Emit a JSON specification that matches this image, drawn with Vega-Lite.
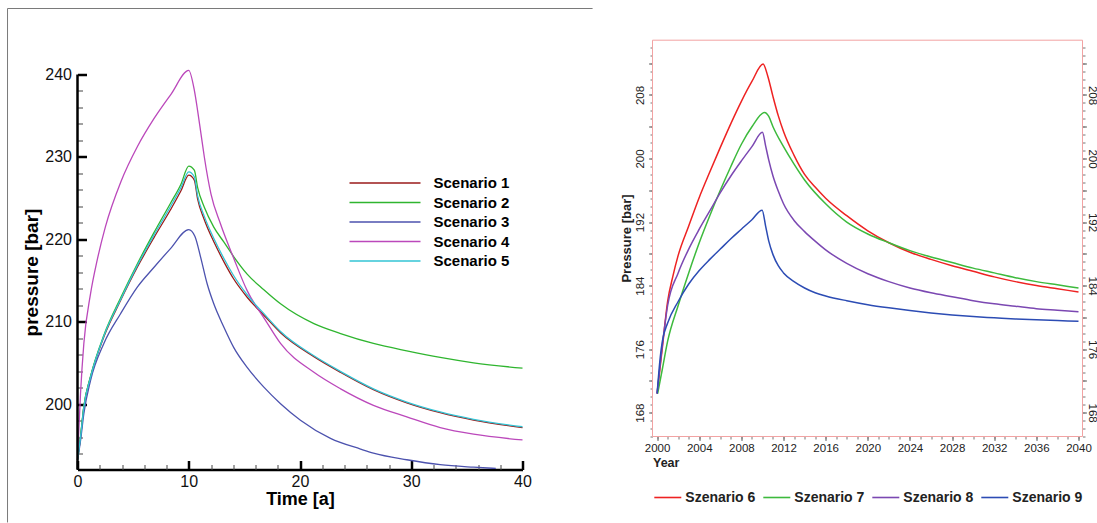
{
  "$schema": "https://vega.github.io/schema/vega-lite/v6.json",
  "padding": {"left": 6.5, "top": 7.5, "right": 0, "bottom": 0},
  "bounds": "flush",
  "spacing": 130,
  "config": {
    "font": "Liberation Sans",
    "view": {"stroke": null},
    "axis": {"grid": false, "labelOverlap": false, "labelFlush": false}
  },
  "resolve": {"scale": {"color": "independent"}},
  "datasets": {
    "left": [
      {"s": "Scenario 1", "t": 0, "p": 193.3}, {"s": "Scenario 1", "t": 0.27, "p": 196.0}, {"s": "Scenario 1", "t": 0.57, "p": 199.7}, {"s": "Scenario 1", "t": 1.17, "p": 203.3}, {"s": "Scenario 1", "t": 2.37, "p": 208.2}, {"s": "Scenario 1", "t": 3.87, "p": 212.6}, {"s": "Scenario 1", "t": 5.36, "p": 216.6}, {"s": "Scenario 1", "t": 6.86, "p": 220.2}, {"s": "Scenario 1", "t": 8.36, "p": 223.6}, {"s": "Scenario 1", "t": 9.3, "p": 225.9}, {"s": "Scenario 1", "t": 10, "p": 227.8}, {"s": "Scenario 1", "t": 10.5, "p": 227.2}, {"s": "Scenario 1", "t": 10.8, "p": 224.9}, {"s": "Scenario 1", "t": 11.4, "p": 222.4}, {"s": "Scenario 1", "t": 12.3, "p": 219.6}, {"s": "Scenario 1", "t": 13.2, "p": 217.2}, {"s": "Scenario 1", "t": 14.0, "p": 215.3}, {"s": "Scenario 1", "t": 15.25, "p": 213.0}, {"s": "Scenario 1", "t": 16.9, "p": 210.6}, {"s": "Scenario 1", "t": 18.25, "p": 208.7}, {"s": "Scenario 1", "t": 21.25, "p": 205.8}, {"s": "Scenario 1", "t": 23.65, "p": 203.9}, {"s": "Scenario 1", "t": 26.6, "p": 201.8}, {"s": "Scenario 1", "t": 29.6, "p": 200.2}, {"s": "Scenario 1", "t": 32.6, "p": 199.0}, {"s": "Scenario 1", "t": 35.6, "p": 198.1}, {"s": "Scenario 1", "t": 40, "p": 197.2},
      {"s": "Scenario 2", "t": 0, "p": 193.3}, {"s": "Scenario 2", "t": 0.27, "p": 196.1}, {"s": "Scenario 2", "t": 0.57, "p": 199.8}, {"s": "Scenario 2", "t": 1.17, "p": 203.4}, {"s": "Scenario 2", "t": 2.37, "p": 208.4}, {"s": "Scenario 2", "t": 3.87, "p": 212.9}, {"s": "Scenario 2", "t": 5.36, "p": 217.0}, {"s": "Scenario 2", "t": 6.86, "p": 220.8}, {"s": "Scenario 2", "t": 8.36, "p": 224.4}, {"s": "Scenario 2", "t": 9.3, "p": 226.7}, {"s": "Scenario 2", "t": 10, "p": 228.9}, {"s": "Scenario 2", "t": 10.5, "p": 228.4}, {"s": "Scenario 2", "t": 10.8, "p": 226.3}, {"s": "Scenario 2", "t": 11.4, "p": 223.9}, {"s": "Scenario 2", "t": 12.25, "p": 221.5}, {"s": "Scenario 2", "t": 13.15, "p": 219.7}, {"s": "Scenario 2", "t": 14.05, "p": 217.9}, {"s": "Scenario 2", "t": 15.25, "p": 215.8}, {"s": "Scenario 2", "t": 16.75, "p": 213.9}, {"s": "Scenario 2", "t": 18.25, "p": 212.2}, {"s": "Scenario 2", "t": 21.25, "p": 209.8}, {"s": "Scenario 2", "t": 23.65, "p": 208.6}, {"s": "Scenario 2", "t": 26.6, "p": 207.4}, {"s": "Scenario 2", "t": 29.6, "p": 206.5}, {"s": "Scenario 2", "t": 32.6, "p": 205.7}, {"s": "Scenario 2", "t": 35.6, "p": 205.05}, {"s": "Scenario 2", "t": 40, "p": 204.4},
      {"s": "Scenario 3", "t": 0, "p": 193.3}, {"s": "Scenario 3", "t": 0.27, "p": 195.6}, {"s": "Scenario 3", "t": 0.57, "p": 198.9}, {"s": "Scenario 3", "t": 1.17, "p": 202.9}, {"s": "Scenario 3", "t": 2.37, "p": 207.4}, {"s": "Scenario 3", "t": 3.87, "p": 211.0}, {"s": "Scenario 3", "t": 5.36, "p": 214.2}, {"s": "Scenario 3", "t": 6.86, "p": 216.6}, {"s": "Scenario 3", "t": 8.36, "p": 218.9}, {"s": "Scenario 3", "t": 10, "p": 221.2}, {"s": "Scenario 3", "t": 10.55, "p": 220.4}, {"s": "Scenario 3", "t": 11.06, "p": 217.9}, {"s": "Scenario 3", "t": 11.66, "p": 214.6}, {"s": "Scenario 3", "t": 12.25, "p": 212.2}, {"s": "Scenario 3", "t": 13.15, "p": 209.4}, {"s": "Scenario 3", "t": 14.05, "p": 206.9}, {"s": "Scenario 3", "t": 15.25, "p": 204.5}, {"s": "Scenario 3", "t": 16.75, "p": 202.1}, {"s": "Scenario 3", "t": 18.25, "p": 200.1}, {"s": "Scenario 3", "t": 20.04, "p": 198.1}, {"s": "Scenario 3", "t": 22.74, "p": 195.9}, {"s": "Scenario 3", "t": 25.44, "p": 194.6}, {"s": "Scenario 3", "t": 26.6, "p": 194.1}, {"s": "Scenario 3", "t": 29.6, "p": 193.3}, {"s": "Scenario 3", "t": 32.6, "p": 192.7}, {"s": "Scenario 3", "t": 35.6, "p": 192.4}, {"s": "Scenario 3", "t": 37.6, "p": 192.25},
      {"s": "Scenario 4", "t": 0, "p": 193.4}, {"s": "Scenario 4", "t": 0.27, "p": 201.3}, {"s": "Scenario 4", "t": 0.57, "p": 207.4}, {"s": "Scenario 4", "t": 1.17, "p": 213.4}, {"s": "Scenario 4", "t": 1.77, "p": 217.5}, {"s": "Scenario 4", "t": 2.5, "p": 221.5}, {"s": "Scenario 4", "t": 3.9, "p": 227.0}, {"s": "Scenario 4", "t": 5.4, "p": 231.3}, {"s": "Scenario 4", "t": 6.9, "p": 234.7}, {"s": "Scenario 4", "t": 8.4, "p": 237.6}, {"s": "Scenario 4", "t": 10, "p": 240.5}, {"s": "Scenario 4", "t": 10.5, "p": 238.1}, {"s": "Scenario 4", "t": 10.8, "p": 235.6}, {"s": "Scenario 4", "t": 11.1, "p": 232.8}, {"s": "Scenario 4", "t": 11.4, "p": 230.0}, {"s": "Scenario 4", "t": 12.0, "p": 225.5}, {"s": "Scenario 4", "t": 12.85, "p": 221.9}, {"s": "Scenario 4", "t": 14.05, "p": 217.7}, {"s": "Scenario 4", "t": 15.25, "p": 213.8}, {"s": "Scenario 4", "t": 16.9, "p": 210.2}, {"s": "Scenario 4", "t": 18.25, "p": 207.4}, {"s": "Scenario 4", "t": 21.25, "p": 203.9}, {"s": "Scenario 4", "t": 23.65, "p": 201.9}, {"s": "Scenario 4", "t": 26.6, "p": 199.9}, {"s": "Scenario 4", "t": 29.6, "p": 198.5}, {"s": "Scenario 4", "t": 32.6, "p": 197.2}, {"s": "Scenario 4", "t": 35.6, "p": 196.4}, {"s": "Scenario 4", "t": 40, "p": 195.7},
      {"s": "Scenario 5", "t": 0, "p": 193.3}, {"s": "Scenario 5", "t": 0.27, "p": 196.0}, {"s": "Scenario 5", "t": 0.57, "p": 199.7}, {"s": "Scenario 5", "t": 1.17, "p": 203.3}, {"s": "Scenario 5", "t": 2.37, "p": 208.3}, {"s": "Scenario 5", "t": 3.87, "p": 212.7}, {"s": "Scenario 5", "t": 5.36, "p": 216.8}, {"s": "Scenario 5", "t": 6.86, "p": 220.5}, {"s": "Scenario 5", "t": 8.36, "p": 224.0}, {"s": "Scenario 5", "t": 9.3, "p": 226.3}, {"s": "Scenario 5", "t": 10, "p": 228.2}, {"s": "Scenario 5", "t": 10.5, "p": 227.6}, {"s": "Scenario 5", "t": 10.8, "p": 225.3}, {"s": "Scenario 5", "t": 11.4, "p": 222.8}, {"s": "Scenario 5", "t": 12.3, "p": 220.0}, {"s": "Scenario 5", "t": 13.2, "p": 217.6}, {"s": "Scenario 5", "t": 14.0, "p": 215.7}, {"s": "Scenario 5", "t": 15.25, "p": 213.3}, {"s": "Scenario 5", "t": 16.9, "p": 210.8}, {"s": "Scenario 5", "t": 18.25, "p": 208.85}, {"s": "Scenario 5", "t": 21.25, "p": 205.9}, {"s": "Scenario 5", "t": 23.65, "p": 204.0}, {"s": "Scenario 5", "t": 26.6, "p": 201.9}, {"s": "Scenario 5", "t": 29.6, "p": 200.3}, {"s": "Scenario 5", "t": 32.6, "p": 199.1}, {"s": "Scenario 5", "t": 35.6, "p": 198.2}, {"s": "Scenario 5", "t": 40, "p": 197.3}
    ],
    "right": [
      {"s": "Szenario 6", "year": 2000, "p": 170.4}, {"s": "Szenario 6", "year": 2000.25, "p": 173.3}, {"s": "Szenario 6", "year": 2000.5, "p": 176.2}, {"s": "Szenario 6", "year": 2001, "p": 182.0}, {"s": "Szenario 6", "year": 2001.5, "p": 185.2}, {"s": "Szenario 6", "year": 2002, "p": 187.8}, {"s": "Szenario 6", "year": 2003, "p": 191.5}, {"s": "Szenario 6", "year": 2004, "p": 195.1}, {"s": "Szenario 6", "year": 2005, "p": 198.3}, {"s": "Szenario 6", "year": 2006, "p": 201.4}, {"s": "Szenario 6", "year": 2007, "p": 204.4}, {"s": "Szenario 6", "year": 2008, "p": 207.2}, {"s": "Szenario 6", "year": 2009, "p": 209.7}, {"s": "Szenario 6", "year": 2010.06, "p": 211.9}, {"s": "Szenario 6", "year": 2010.5, "p": 210.4}, {"s": "Szenario 6", "year": 2011, "p": 207.8}, {"s": "Szenario 6", "year": 2011.5, "p": 205.4}, {"s": "Szenario 6", "year": 2012, "p": 203.4}, {"s": "Szenario 6", "year": 2013, "p": 200.4}, {"s": "Szenario 6", "year": 2014, "p": 198.0}, {"s": "Szenario 6", "year": 2015, "p": 196.4}, {"s": "Szenario 6", "year": 2016, "p": 195.0}, {"s": "Szenario 6", "year": 2018, "p": 192.8}, {"s": "Szenario 6", "year": 2020, "p": 190.9}, {"s": "Szenario 6", "year": 2022, "p": 189.4}, {"s": "Szenario 6", "year": 2024, "p": 188.2}, {"s": "Szenario 6", "year": 2026, "p": 187.3}, {"s": "Szenario 6", "year": 2028, "p": 186.5}, {"s": "Szenario 6", "year": 2030, "p": 185.8}, {"s": "Szenario 6", "year": 2032, "p": 185.1}, {"s": "Szenario 6", "year": 2034, "p": 184.5}, {"s": "Szenario 6", "year": 2036, "p": 184.0}, {"s": "Szenario 6", "year": 2038, "p": 183.6}, {"s": "Szenario 6", "year": 2040, "p": 183.2},
      {"s": "Szenario 7", "year": 2000.05, "p": 170.4}, {"s": "Szenario 7", "year": 2000.5, "p": 173.5}, {"s": "Szenario 7", "year": 2001, "p": 177.0}, {"s": "Szenario 7", "year": 2002, "p": 181.5}, {"s": "Szenario 7", "year": 2003, "p": 185.6}, {"s": "Szenario 7", "year": 2004, "p": 189.4}, {"s": "Szenario 7", "year": 2005, "p": 192.8}, {"s": "Szenario 7", "year": 2006, "p": 196.0}, {"s": "Szenario 7", "year": 2007, "p": 199.0}, {"s": "Szenario 7", "year": 2008, "p": 201.8}, {"s": "Szenario 7", "year": 2009, "p": 204.0}, {"s": "Szenario 7", "year": 2010.2, "p": 205.8}, {"s": "Szenario 7", "year": 2010.6, "p": 205.3}, {"s": "Szenario 7", "year": 2011, "p": 204.0}, {"s": "Szenario 7", "year": 2012, "p": 201.5}, {"s": "Szenario 7", "year": 2013, "p": 199.3}, {"s": "Szenario 7", "year": 2014, "p": 197.3}, {"s": "Szenario 7", "year": 2016, "p": 194.3}, {"s": "Szenario 7", "year": 2018, "p": 192.0}, {"s": "Szenario 7", "year": 2020, "p": 190.5}, {"s": "Szenario 7", "year": 2022, "p": 189.4}, {"s": "Szenario 7", "year": 2024, "p": 188.4}, {"s": "Szenario 7", "year": 2026, "p": 187.6}, {"s": "Szenario 7", "year": 2028, "p": 186.9}, {"s": "Szenario 7", "year": 2030, "p": 186.2}, {"s": "Szenario 7", "year": 2032, "p": 185.6}, {"s": "Szenario 7", "year": 2034, "p": 185.0}, {"s": "Szenario 7", "year": 2036, "p": 184.5}, {"s": "Szenario 7", "year": 2038, "p": 184.1}, {"s": "Szenario 7", "year": 2040, "p": 183.7},
      {"s": "Szenario 8", "year": 2000, "p": 170.4}, {"s": "Szenario 8", "year": 2000.5, "p": 176.5}, {"s": "Szenario 8", "year": 2001, "p": 181.5}, {"s": "Szenario 8", "year": 2002, "p": 185.6}, {"s": "Szenario 8", "year": 2003, "p": 188.6}, {"s": "Szenario 8", "year": 2004, "p": 191.1}, {"s": "Szenario 8", "year": 2005, "p": 193.4}, {"s": "Szenario 8", "year": 2006, "p": 195.7}, {"s": "Szenario 8", "year": 2007, "p": 197.8}, {"s": "Szenario 8", "year": 2008, "p": 199.7}, {"s": "Szenario 8", "year": 2009, "p": 201.5}, {"s": "Szenario 8", "year": 2010, "p": 203.3}, {"s": "Szenario 8", "year": 2010.3, "p": 201.6}, {"s": "Szenario 8", "year": 2010.6, "p": 199.8}, {"s": "Szenario 8", "year": 2011, "p": 197.8}, {"s": "Szenario 8", "year": 2011.5, "p": 195.9}, {"s": "Szenario 8", "year": 2012, "p": 194.3}, {"s": "Szenario 8", "year": 2013, "p": 192.2}, {"s": "Szenario 8", "year": 2014, "p": 190.8}, {"s": "Szenario 8", "year": 2015, "p": 189.6}, {"s": "Szenario 8", "year": 2016, "p": 188.5}, {"s": "Szenario 8", "year": 2018, "p": 186.8}, {"s": "Szenario 8", "year": 2020, "p": 185.5}, {"s": "Szenario 8", "year": 2022, "p": 184.5}, {"s": "Szenario 8", "year": 2024, "p": 183.7}, {"s": "Szenario 8", "year": 2026, "p": 183.1}, {"s": "Szenario 8", "year": 2028, "p": 182.6}, {"s": "Szenario 8", "year": 2030, "p": 182.1}, {"s": "Szenario 8", "year": 2032, "p": 181.7}, {"s": "Szenario 8", "year": 2034, "p": 181.4}, {"s": "Szenario 8", "year": 2036, "p": 181.1}, {"s": "Szenario 8", "year": 2038, "p": 180.9}, {"s": "Szenario 8", "year": 2040, "p": 180.7},
      {"s": "Szenario 9", "year": 2000, "p": 170.4}, {"s": "Szenario 9", "year": 2000.3, "p": 175.0}, {"s": "Szenario 9", "year": 2000.5, "p": 177.0}, {"s": "Szenario 9", "year": 2001, "p": 179.3}, {"s": "Szenario 9", "year": 2002, "p": 182.0}, {"s": "Szenario 9", "year": 2003, "p": 184.2}, {"s": "Szenario 9", "year": 2004, "p": 185.9}, {"s": "Szenario 9", "year": 2005, "p": 187.3}, {"s": "Szenario 9", "year": 2006, "p": 188.6}, {"s": "Szenario 9", "year": 2007, "p": 189.9}, {"s": "Szenario 9", "year": 2008, "p": 191.1}, {"s": "Szenario 9", "year": 2009, "p": 192.3}, {"s": "Szenario 9", "year": 2009.97, "p": 193.5}, {"s": "Szenario 9", "year": 2010.3, "p": 191.5}, {"s": "Szenario 9", "year": 2010.6, "p": 189.6}, {"s": "Szenario 9", "year": 2011, "p": 187.9}, {"s": "Szenario 9", "year": 2011.5, "p": 186.5}, {"s": "Szenario 9", "year": 2012, "p": 185.6}, {"s": "Szenario 9", "year": 2013, "p": 184.5}, {"s": "Szenario 9", "year": 2014, "p": 183.7}, {"s": "Szenario 9", "year": 2015, "p": 183.1}, {"s": "Szenario 9", "year": 2016, "p": 182.7}, {"s": "Szenario 9", "year": 2018, "p": 182.1}, {"s": "Szenario 9", "year": 2020, "p": 181.6}, {"s": "Szenario 9", "year": 2022, "p": 181.2}, {"s": "Szenario 9", "year": 2024, "p": 180.85}, {"s": "Szenario 9", "year": 2026, "p": 180.55}, {"s": "Szenario 9", "year": 2028, "p": 180.3}, {"s": "Szenario 9", "year": 2030, "p": 180.1}, {"s": "Szenario 9", "year": 2032, "p": 179.95}, {"s": "Szenario 9", "year": 2034, "p": 179.8}, {"s": "Szenario 9", "year": 2036, "p": 179.7}, {"s": "Szenario 9", "year": 2038, "p": 179.6}, {"s": "Szenario 9", "year": 2040, "p": 179.5}
    ]
  },
  "hconcat": [
    {
      "width": 445,
      "height": 461,
      "resolve": {"axis": {"x": "independent", "y": "independent"}},
      "layer": [
        {
          "data": {"name": "left"},
          "mark": {"type": "line", "strokeWidth": 1.3, "interpolate": "monotone"},
          "encoding": {
            "x": {"field": "t", "type": "quantitative",
              "scale": {"domain": [0, 40], "nice": false, "zero": false},
              "axis": {"orient": "bottom", "values": [0, 10, 20, 30, 40], "format": "d",
                "domain": true, "domainColor": "#000", "domainWidth": 2.5,
                "tickSize": -9, "tickWidth": 2.5, "tickColor": "#000",
                "labelPadding": 13, "labelFontSize": 16, "labelColor": "#111",
                "title": "Time [a]", "titleFontSize": 18, "titleFontWeight": "bold", "titleColor": "#000",
                "titleY": 30, "titleBaseline": "middle"}},
            "y": {"field": "p", "type": "quantitative",
              "scale": {"domain": [192.12, 248], "nice": false, "zero": false},
              "axis": {"orient": "left", "values": [200, 210, 220, 230, 240], "format": "d",
                "domain": false, "tickSize": -9, "tickWidth": 2.5, "tickColor": "#000",
                "labelPadding": 15, "labelFontSize": 16, "labelColor": "#111",
                "title": "pressure [bar]", "titleFontSize": 19, "titleFontWeight": "bold", "titleColor": "#000",
                "titleX": -46, "titleY": 263.5, "titleAngle": 270, "titleAlign": "center", "titleBaseline": "middle"}},
            "color": {"field": "s", "type": "nominal",
              "scale": {"domain": ["Scenario 1", "Scenario 2", "Scenario 3", "Scenario 4", "Scenario 5"],
                "range": ["#9a1a1a", "#2fb52f", "#4c52ae", "#bb48bb", "#33c4d4"]},
              "legend": {"orient": "none", "legendX": 300, "legendY": 167, "title": null, "padding": 0,
                "symbolType": "M-7.1,0H7.1", "symbolSize": 100, "symbolStrokeWidth": 1.6,
                "labelOffset": 41, "labelFontSize": 15, "labelFontWeight": "bold", "labelColor": "#000",
                "rowPadding": 3.5}}
          }
        },
        {
          "data": {"name": "left"},
          "mark": {"type": "point", "opacity": 0},
          "encoding": {
            "x": {"field": "t", "type": "quantitative",
              "scale": {"domain": [0, 40], "nice": false, "zero": false},
              "axis": {"orient": "bottom", "values": [2, 4, 6, 8, 12, 14, 16, 18, 22, 24, 26, 28, 32, 34, 36, 38],
                "domain": false, "labels": false, "title": null,
                "tickSize": -5, "tickWidth": 1, "tickColor": "#444"}},
            "y": {"field": "p", "type": "quantitative",
              "scale": {"domain": [192.12, 248], "nice": false, "zero": false},
              "axis": {"orient": "left", "values": [194, 196, 198, 202, 204, 206, 208, 212, 214, 216, 218, 222, 224, 226, 228, 232, 234, 236, 238],
                "domain": false, "labels": false, "title": null,
                "tickSize": -5, "tickWidth": 1, "tickColor": "#444"}}
          }
        },
        {
          "data": {"values": [{}]},
          "mark": {"type": "rule", "color": "#000", "strokeWidth": 2.5},
          "encoding": {
            "x": {"datum": 0, "type": "quantitative", "scale": {"domain": [0, 40], "nice": false, "zero": false}, "axis": null},
            "y": {"datum": 192.12, "type": "quantitative", "scale": {"domain": [192.12, 248], "nice": false, "zero": false}, "axis": null},
            "y2": {"datum": 240}
          }
        },
        {
          "data": {"values": [{}]},
          "mark": {"type": "rule", "color": "#7a7a7a", "strokeWidth": 1},
          "encoding": {
            "x": {"datum": -6.29, "type": "quantitative", "scale": {"domain": [0, 40], "nice": false, "zero": false}, "axis": null},
            "x2": {"datum": 46.3},
            "y": {"datum": 248, "type": "quantitative", "scale": {"domain": [192.12, 248], "nice": false, "zero": false}, "axis": null}
          }
        },
        {
          "data": {"values": [{}]},
          "mark": {"type": "rule", "color": "#7a7a7a", "strokeWidth": 1},
          "encoding": {
            "x": {"datum": -6.29, "type": "quantitative", "scale": {"domain": [0, 40], "nice": false, "zero": false}, "axis": null},
            "y": {"datum": 248, "type": "quantitative", "scale": {"domain": [192.12, 248], "nice": false, "zero": false}, "axis": null},
            "y2": {"datum": 185.7}
          }
        }
      ]
    },
    {
      "width": 430,
      "height": 428,
      "resolve": {"axis": {"x": "independent", "y": "independent"}},
      "layer": [
        {
          "data": {"values": [{}]},
          "mark": {"type": "rect", "filled": false, "stroke": "#f2a3a3", "strokeWidth": 1},
          "encoding": {
            "x": {"datum": 1999.563, "type": "quantitative", "scale": {"domain": [1999.563, 2040.38], "nice": false, "zero": false}, "axis": null},
            "x2": {"datum": 2040.38},
            "y": {"datum": 165, "type": "quantitative", "scale": {"domain": [165, 218.89], "nice": false, "zero": false}, "axis": null},
            "y2": {"datum": 214.9}
          }
        },
        {
          "data": {"name": "right"},
          "mark": {"type": "line", "strokeWidth": 1.5, "interpolate": "monotone"},
          "encoding": {
            "x": {"field": "year", "type": "quantitative",
              "scale": {"domain": [1999.563, 2040.38], "nice": false, "zero": false},
              "axis": {"orient": "bottom", "values": [2000, 2004, 2008, 2012, 2016, 2020, 2024, 2028, 2032, 2036, 2040], "format": "d",
                "domain": false, "tickSize": 4, "tickColor": "#666", "tickWidth": 1,
                "labelPadding": 2, "labelFontSize": 11.5, "labelColor": "#222",
                "title": "Year", "titleFontSize": 12.5, "titleFontWeight": "bold", "titleColor": "#222",
                "titleX": 0, "titleY": 25.7, "titleAlign": "left", "titleBaseline": "middle"}},
            "y": {"field": "p", "type": "quantitative",
              "scale": {"domain": [165, 218.89], "nice": false, "zero": false},
              "axis": {"orient": "left", "values": [168, 172, 176, 180, 184, 188, 192, 196, 200, 204, 208, 212], "format": "d",
                "labelExpr": "datum.value % 8 == 0 ? datum.label : ''",
                "domain": false, "tickSize": 4, "tickColor": "#666", "tickWidth": 1,
                "labelAngle": -90, "labelAlign": "center", "labelBaseline": "middle", "labelPadding": 8.4,
                "labelFontSize": 11.5, "labelColor": "#222",
                "title": "Pressure [bar]", "titleFontSize": 13, "titleFontWeight": "bold", "titleColor": "#222",
                "titleX": -25.7, "titleY": 229.5, "titleAngle": 270, "titleAlign": "center", "titleBaseline": "middle"}},
            "color": {"field": "s", "type": "nominal",
              "scale": {"domain": ["Szenario 6", "Szenario 7", "Szenario 8", "Szenario 9"],
                "range": ["#ee2222", "#3dba3d", "#7b48b2", "#2c4cb4"]},
              "legend": {"orient": "none", "direction": "horizontal", "legendX": 8.3, "legendY": 482, "title": null, "padding": 0,
                "symbolType": "M-2.7,0H2.7", "symbolSize": 100, "symbolStrokeWidth": 1.6,
                "labelOffset": 10.5, "labelFontSize": 14, "labelFontWeight": "bold", "labelColor": "#222",
                "columnPadding": 4}}
          }
        },
        {
          "data": {"name": "right"},
          "mark": {"type": "point", "opacity": 0},
          "encoding": {
            "x": {"field": "year", "type": "quantitative",
              "scale": {"domain": [1999.563, 2040.38], "nice": false, "zero": false},
              "axis": {"orient": "bottom", "values": [2000, 2001, 2002, 2003, 2004, 2005, 2006, 2007, 2008, 2009, 2010, 2011, 2012, 2013, 2014, 2015, 2016, 2017, 2018, 2019, 2020, 2021, 2022, 2023, 2024, 2025, 2026, 2027, 2028, 2029, 2030, 2031, 2032, 2033, 2034, 2035, 2036, 2037, 2038, 2039, 2040],
                "domain": false, "labels": false, "title": null, "tickSize": 2.5, "tickColor": "#777", "tickWidth": 1}},
            "y": {"field": "p", "type": "quantitative",
              "scale": {"domain": [165, 218.89], "nice": false, "zero": false},
              "axis": {"orient": "left", "values": [165, 166, 167, 168, 169, 170, 171, 172, 173, 174, 175, 176, 177, 178, 179, 180, 181, 182, 183, 184, 185, 186, 187, 188, 189, 190, 191, 192, 193, 194, 195, 196, 197, 198, 199, 200, 201, 202, 203, 204, 205, 206, 207, 208, 209, 210, 211, 212, 213, 214],
                "domain": false, "labels": false, "title": null, "tickSize": 2.5, "tickColor": "#777", "tickWidth": 1}}
          }
        },
        {
          "data": {"name": "right"},
          "mark": {"type": "point", "opacity": 0},
          "encoding": {
            "x": {"field": "year", "type": "quantitative",
              "scale": {"domain": [1999.563, 2040.38], "nice": false, "zero": false}, "axis": null},
            "y": {"field": "p", "type": "quantitative",
              "scale": {"domain": [165, 218.89], "nice": false, "zero": false},
              "axis": {"orient": "right", "values": [168, 172, 176, 180, 184, 188, 192, 196, 200, 204, 208, 212], "format": "d",
                "labelExpr": "datum.value % 8 == 0 ? datum.label : ''",
                "domain": false, "tickSize": 4, "tickColor": "#666", "tickWidth": 1,
                "labelAngle": 90, "labelAlign": "center", "labelBaseline": "middle", "labelPadding": 4.8,
                "labelFontSize": 11.5, "labelColor": "#222", "title": null}}
          }
        },
        {
          "data": {"name": "right"},
          "mark": {"type": "point", "opacity": 0},
          "encoding": {
            "x": {"field": "year", "type": "quantitative",
              "scale": {"domain": [1999.563, 2040.38], "nice": false, "zero": false}, "axis": null},
            "y": {"field": "p", "type": "quantitative",
              "scale": {"domain": [165, 218.89], "nice": false, "zero": false},
              "axis": {"orient": "right", "values": [165, 166, 167, 168, 169, 170, 171, 172, 173, 174, 175, 176, 177, 178, 179, 180, 181, 182, 183, 184, 185, 186, 187, 188, 189, 190, 191, 192, 193, 194, 195, 196, 197, 198, 199, 200, 201, 202, 203, 204, 205, 206, 207, 208, 209, 210, 211, 212, 213, 214],
                "domain": false, "labels": false, "title": null, "tickSize": 2.5, "tickColor": "#777", "tickWidth": 1}}
          }
        }
      ]
    }
  ]
}
